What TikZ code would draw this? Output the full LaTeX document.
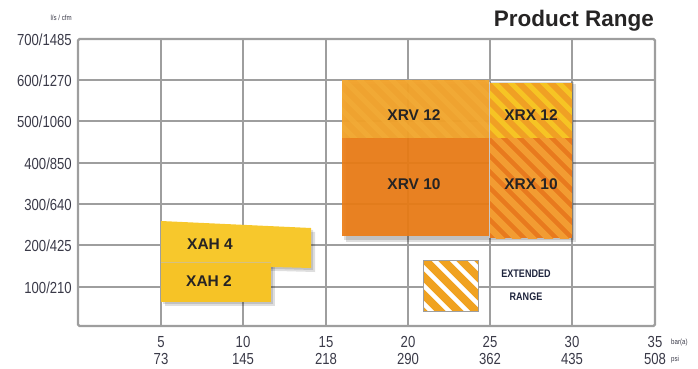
\documentclass[tikz,border=0pt]{standalone}
\usepackage{fontspec}
\setmainfont{Liberation Sans}
\newfontfamily\condfont[FakeStretch=0.82]{Liberation Sans}
\definecolor{gridgray}{RGB}{158,158,158}
\definecolor{yelA}{RGB}{247,200,44}
\definecolor{yelB}{RGB}{246,195,38}
\definecolor{orA}{RGB}{241,162,42}
\definecolor{orAs}{RGB}{243,172,56}
\definecolor{orB}{RGB}{235,125,22}
\definecolor{xrxY}{RGB}{246,196,36}
\definecolor{xrxYs}{RGB}{240,160,36}
\definecolor{xrxO}{RGB}{232,122,30}
\definecolor{xrxOs}{RGB}{242,156,50}
\definecolor{legO}{RGB}{240,162,32}
\definecolor{txt}{RGB}{38,36,36}
\definecolor{axtxt}{RGB}{58,58,72}
\definecolor{navy}{RGB}{30,36,60}
\tikzset{
  gridline/.style={draw=gridgray, line width=1.7pt},
  frameline/.style={draw=gridgray, line width=2.4pt, rounded corners=1.5pt},
  shadowfill/.style={fill=black, opacity=0.13},
  blocklabel/.style={inner sep=0pt, text=txt, font=\fontsize{15.5}{16}\selectfont\bfseries},
  ylab/.style={anchor=east, inner sep=0pt, text=axtxt, font=\condfont\fontsize{16}{16}\selectfont},
  xlab/.style={inner sep=0pt, text=axtxt, font=\condfont\fontsize{16}{16}\selectfont},
  unitlab/.style={inner sep=0pt, text=axtxt, font=\condfont\fontsize{7.5}{8}\selectfont},
  leglab/.style={inner sep=0pt, text=navy, font=\condfont\fontsize{11}{12}\selectfont\bfseries},
}
\begin{document}
\begin{tikzpicture}[x=1pt,y=-1pt]
\useasboundingbox (0,0) rectangle (698,369);
% grid
\foreach \x in {161,243,326,408,490,572} \draw[gridline] (\x,39) -- (\x,326);
\foreach \y in {80,121,163,204,245,287} \draw[gridline] (78,\y) -- (655,\y);
\draw[frameline] (78,39) rectangle (655,326);

% shadows
\foreach \s in {2,4} {
  \fill[shadowfill] ([shift={(\s,\s)}]161,221) -- ++(150,7) -- ++(0,40) -- ++(-150,-4) -- cycle;
  \fill[shadowfill] ([shift={(\s,\s)}]161,262) rectangle ++(110,40);
  \fill[shadowfill] ([shift={(\s,\s)}]342,80) rectangle ++(230,158);
}

% XAH blocks
\fill[yelA] (161,221) -- (311,228) -- (311,268) -- (161,264) -- cycle;
\fill[yelB] (161,262) rectangle (271,302);
\draw[black!25, line width=0.4pt, opacity=0.6] (161,262.5) -- (271,262.5);

% XRV 12 (faint stripes)
\begin{scope}
  \clip (342,80) rectangle (489,138);
  \fill[orA, opacity=0.96] (342,80) rectangle (489,138);
  \foreach \i in {-120,-104,...,160} \draw[orAs, line width=5pt, opacity=0.7] (342+\i,70) -- ++(80,80);
\end{scope}
% XRV 10
\fill[orB, opacity=0.93] (342,138) rectangle (489,236);

% XRX 12
\begin{scope}
  \clip (490,83) rectangle (572,138);
  \fill[xrxY] (490,83) rectangle (572,138);
  \foreach \i in {-80,-64,...,100} \draw[xrxYs, line width=6pt] (490+\i,70) -- ++(80,80);
\end{scope}
% XRX 10
\begin{scope}
  \clip (490,138) rectangle (572,238);
  \fill[xrxO] (490,138) rectangle (572,238);
  \foreach \i in {-130,-114,...,100} \draw[xrxOs, line width=6.5pt] (490+\i,130) -- ++(120,120);
\end{scope}
\draw[white, line width=0.8pt, opacity=0.6] (489.5,82) -- (489.5,238);

% block labels
\node[blocklabel] (xah4) at (210,244) {XAH 4};
\node[blocklabel] (xah2) at (209,281) {XAH 2};
\node[blocklabel] (xrv12) at (414,115) {XRV 12};
\node[blocklabel] (xrv10) at (414,184) {XRV 10};
\node[blocklabel] (xrx12) at (531,115) {XRX 12};
\node[blocklabel] (xrx10) at (531,184) {XRX 10};

% legend
\begin{scope}
  \clip (423,260) rectangle (478,311);
  \fill[white] (423,260) rectangle (478,311);
  \foreach \i in {-80,-62,...,80} \draw[legO, line width=8pt] (423+\i,250) -- ++(80,80);
\end{scope}
\draw[gridgray, line width=0.8pt] (423,260) rectangle (478,311);
\node[leglab] (ext) at (526,274) {EXTENDED};
\node[leglab] (rng) at (526,297) {RANGE};

% title
\node[anchor=base east, inner sep=0pt, text=txt, font=\fontsize{22.5}{23}\selectfont\bfseries] (title) at (654,27) {Product Range};

% y labels
\node[unitlab, anchor=east] (yunit) at (72,18) {l/s / cfm};
\node[ylab] (y700) at (72,40) {700/1485};
\node[ylab] (y600) at (72,81) {600/1270};
\node[ylab] (y500) at (72,122) {500/1060};
\node[ylab] (y400) at (72,164) {400/850};
\node[ylab] (y300) at (72,205) {300/640};
\node[ylab] (y200) at (72,246) {200/425};
\node[ylab] (y100) at (72,288) {100/210};

% x labels
\foreach \x/\a/\b [count=\k] in {161/5/73, 243/10/145, 326/15/218, 408/20/290, 490/25/362, 572/30/435, 655/35/508} {
  \node[xlab] (xa\k) at (\x,342) {\a};
  \node[xlab] (xb\k) at (\x,359) {\b};
}
\node[unitlab, anchor=west] (xunitA) at (671,343) {bar(a)};
\node[unitlab, anchor=west] (xunitB) at (671,360) {psi};
\end{tikzpicture}
\end{document}
